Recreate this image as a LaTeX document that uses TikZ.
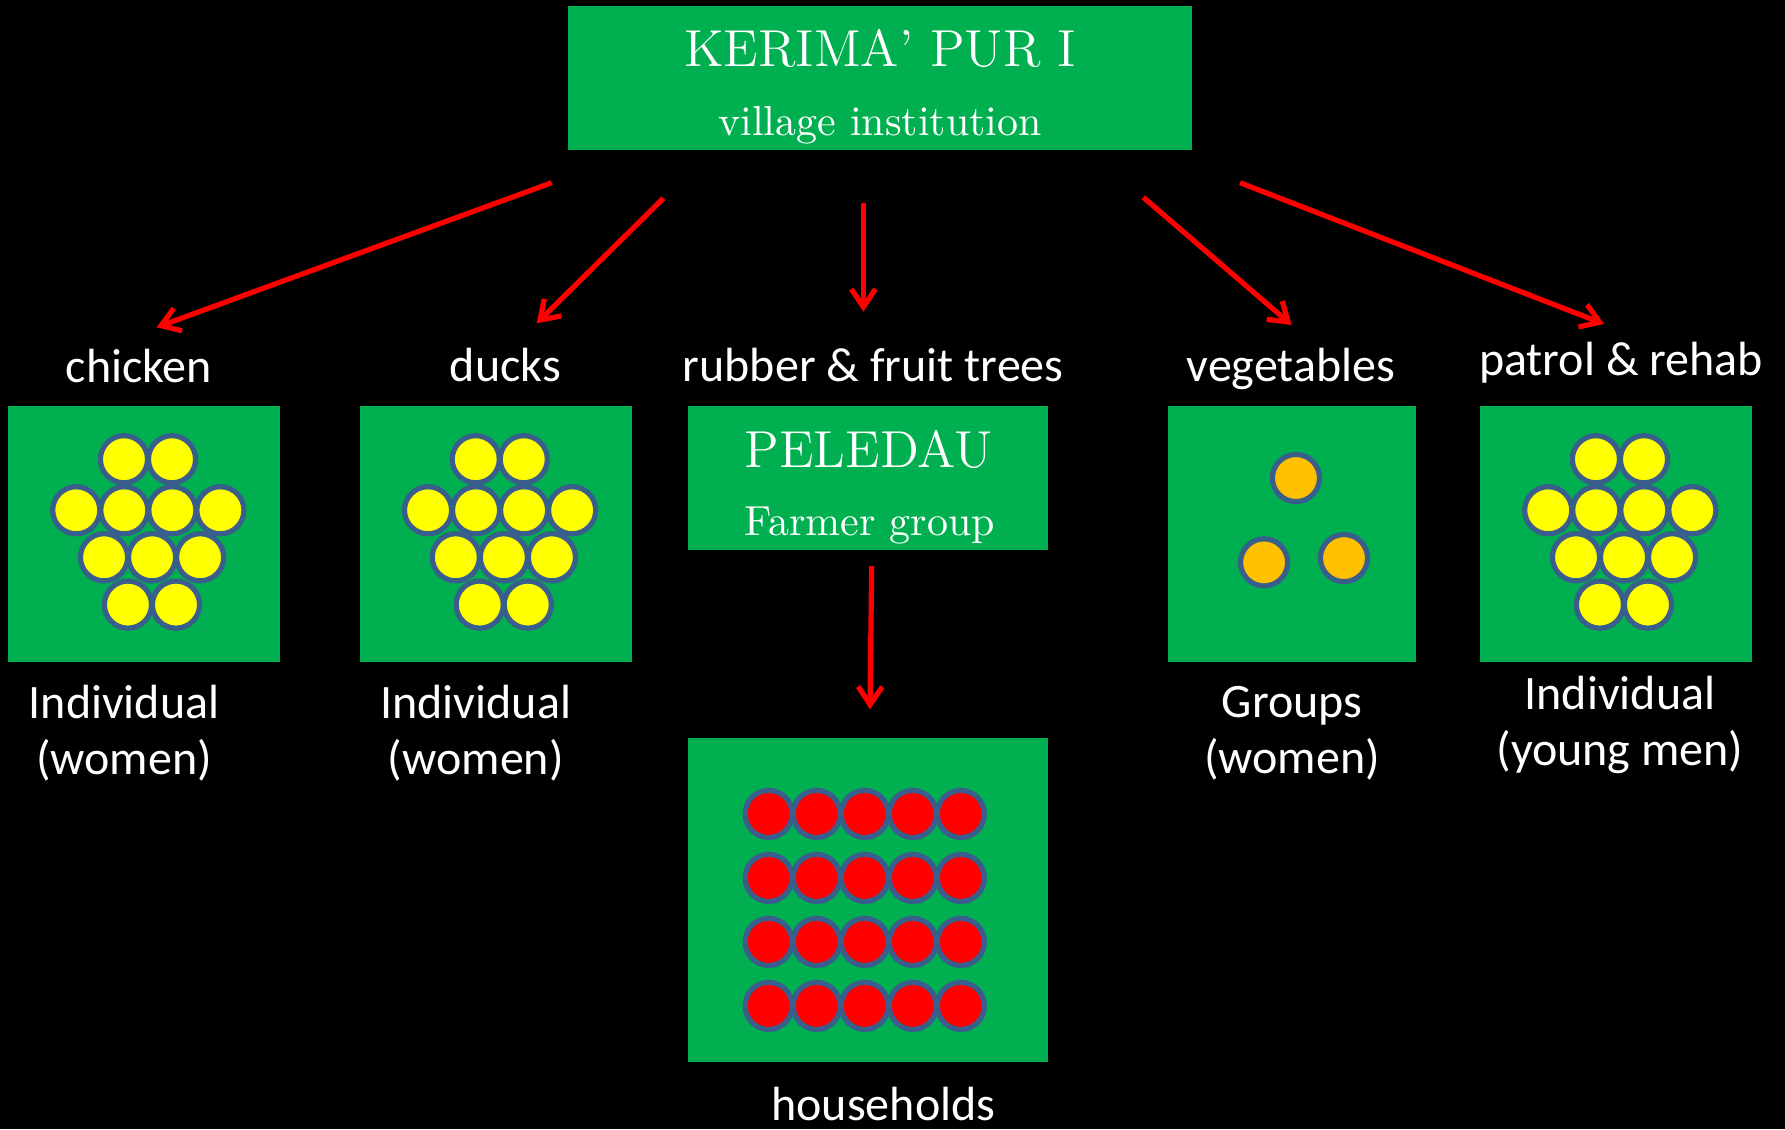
\documentclass[tikz,border=0pt]{standalone}
\usepackage{fontspec}
\usepackage{xcolor}
\usepackage{tikz}
\usetikzlibrary{arrows.meta, positioning, calc}
\newfontfamily\labelfont{Carlito}
\definecolor{leafgreen}{HTML}{00B050}
\definecolor{dotline}{HTML}{3A5E8C}
\definecolor{sunyellow}{HTML}{FFFF00}
\definecolor{amber}{HTML}{FFC000}
\definecolor{hhred}{HTML}{FF0000}

\begin{document}
\begin{tikzpicture}[
    panel/.style={rectangle, fill=leafgreen, inner sep=0pt},
    lab/.style={text=white, font=\labelfont\fontsize{12}{14}\selectfont, align=center, inner sep=0pt},
    head/.style={text=white, font=\fontsize{13}{16}\selectfont, inner sep=0pt, anchor=base},
    sub/.style={text=white, font=\fontsize{10.5}{13}\selectfont, inner sep=0pt, anchor=base},
    arr/.style={-{Straight Barb[length=4.5pt, width=6pt]}, draw=hhred, line width=1.3pt},
    dot/.style={draw=dotline, line width=1.3pt, fill=#1},
  ]
  \fill[black] (0,0) rectangle (15.68,-9.92);
  \useasboundingbox (0,0) rectangle (15.68,-9.92);

  % institutions
  \node[panel, minimum width=5.485cm, minimum height=1.265cm] (kerima) at (7.7325,-0.6855) {};
  \node[head] (kname) at (7.73,-0.586) {KERIMA’ PUR I};
  \node[sub] (ksub) at (7.73,-1.186) {village institution};

  \node[panel, minimum width=3.162cm, minimum height=1.265cm] (peledau) at (7.625,-4.199) {};
  \node[head] (pname) at (7.63,-4.105) {PELEDAU};
  \node[sub] (psub) at (7.64,-4.70) {Farmer group};

  % activity boxes
  \node[panel, minimum width=2.39cm, minimum height=2.25cm] (chickbox) at (1.265,-4.69) {};
  \node[panel, minimum width=2.39cm, minimum height=2.25cm] (duckbox) at (4.355,-4.69) {};
  \node[panel, minimum width=2.18cm, minimum height=2.25cm] (vegbox) at (11.35,-4.69) {};
  \node[panel, minimum width=2.39cm, minimum height=2.25cm] (patrolbox) at (14.195,-4.69) {};
  \node[panel, minimum width=3.162cm, minimum height=2.846cm] (hhbox) at (7.625,-7.906) {};

  % labels
  \node[lab, anchor=base] (chicklab) at (1.22,-3.36) {chicken};
  \node[lab, anchor=base] (ducklab) at (4.44,-3.35) {ducks};
  \node[lab, anchor=base] (rubberlab) at (7.67,-3.35) {rubber \& fruit trees};
  \node[lab, anchor=base] (veglab) at (11.34,-3.35) {vegetables};
  \node[lab, anchor=base] (patrollab) at (14.24,-3.30) {patrol \& rehab};

  \node[lab] (chickwho) at (1.09,-6.44) {Individual\\(women)};
  \node[lab] (duckwho) at (4.18,-6.44) {Individual\\(women)};
  \node[lab] (vegwho) at (11.35,-6.44) {Groups\\(women)};
  \node[lab] (patrolwho) at (14.23,-6.37) {Individual\\(young men)};
  \node[lab, anchor=base] (hhlab) at (7.76,-9.84) {households};

  % members
  \foreach \b in {chickbox, duckbox, patrolbox}
    \foreach \dx/\dy in {-0.176/0.656, 0.246/0.656,
                         -0.595/0.208, -0.173/0.208, 0.249/0.208, 0.671/0.208,
                         -0.351/-0.205, 0.071/-0.205, 0.493/-0.205,
                         -0.141/-0.621, 0.281/-0.621}
      \draw[dot=sunyellow] ($(\b)+(\dx,\dy)$) circle (0.207);

  \foreach \dx/\dy in {0.034/0.491, -0.246/-0.25, 0.456/-0.212}
    \draw[dot=amber] ($(vegbox)+(\dx,\dy)$) circle (0.207);

  \foreach \i in {0,...,4}
    \foreach \j in {0,...,3}
      \draw[dot=hhred] ($(hhbox)+(-0.873+0.422*\i,0.756-0.562*\j)$) circle (0.207);

  % arrows
  \coordinate (a1) at (4.846,-1.605);  \coordinate (b1) at (1.376,-2.875);
  \coordinate (a2) at (5.827,-1.742);  \coordinate (b2) at (4.714,-2.84);
  \coordinate (a3) at (7.584,-1.786);  \coordinate (b3) at (7.584,-2.738);
  \coordinate (a4) at (10.043,-1.733); \coordinate (b4) at (11.346,-2.855);
  \coordinate (a5) at (10.893,-1.605); \coordinate (b5) at (14.09,-2.846);
  \coordinate (a6) at (7.657,-4.972);  \coordinate (b6) at (7.642,-6.231);

  \draw[arr] (a1) -- (b1);
  \draw[arr] (a2) -- (b2);
  \draw[arr] (a3) -- (b3);
  \draw[arr] (a4) -- (b4);
  \draw[arr] (a5) -- (b5);
  \draw[arr] (a6) -- (b6);
\end{tikzpicture}
\end{document}
